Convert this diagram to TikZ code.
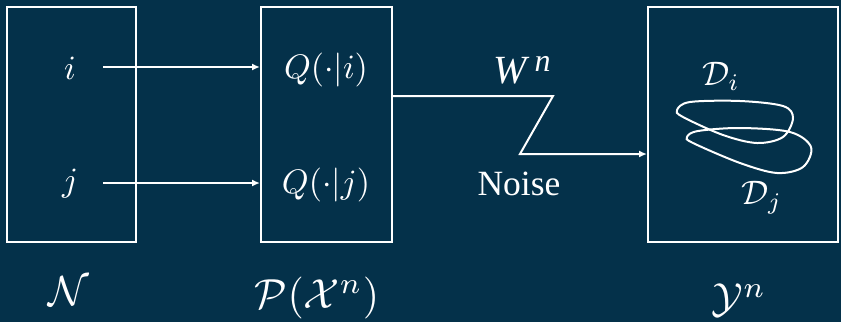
\documentclass[tikz,border=0pt]{standalone}
\usepackage{fontspec}
\newfontfamily\tnr{Liberation Serif}
\usetikzlibrary{arrows.meta}
\definecolor{bg}{HTML}{04314A}
\newcommand{\bigt}[1]{\scalebox{3.4}{#1}}
\newcommand{\hugt}[1]{\scalebox{4.2}{#1}}
\tikzset{
  box/.style={draw=white, line width=2pt, inner sep=0pt},
  lbl/.style={text=white, inner sep=0pt},
  arr/.style={draw=white, line width=2pt, -{Latex[length=8pt,width=7pt]}},
  loop/.style={draw=white, line width=2pt},
}
\begin{document}
\begin{tikzpicture}[x=1pt,y=-1pt]
\fill[bg] (0,0) rectangle (841,322);
\useasboundingbox (0,0) rectangle (841,322);
% boxes
\node[box, minimum width=129pt, minimum height=235pt] (boxN) at (71.5,124.5) {};
\node[box, minimum width=131pt, minimum height=235pt] (boxP) at (326.5,124.5) {};
\node[box, minimum width=190pt, minimum height=235pt] (boxY) at (743,124.5) {};
% labels in boxes
\node[lbl] (li) at (70,68) {\bigt{$i$}};
\node[lbl] (lj) at (70,184) {\bigt{$j$}};
\node[lbl] (qi) at (326,70) {\bigt{$Q(\cdot|i)$}};
\node[lbl] (qj) at (326,185) {\bigt{$Q(\cdot|j)$}};
\coordinate (ai) at (103,67);
\coordinate (aj) at (103,183);
\draw[arr] (ai) -- (ai -| boxP.west);
\draw[arr] (aj) -- (aj -| boxP.west);
% channel
\coordinate (w1) at (553,96);
\coordinate (w2) at (520,154);
\draw[arr] (boxP.east |- w1) -- (w1) -- (w2) -- (w2 -| boxY.west);
\node[lbl, anchor=base west] (wn) at (493,83) {\scalebox{4}{\tnr\itshape W\kern2pt\raisebox{3pt}{\fontsize{8}{8}\selectfont n}}};
\node[lbl] (noise) at (519,184) {\scalebox{3.55}{\tnr Noise}};
% decoding sets
\draw[loop] plot[smooth cycle, tension=0.55] coordinates {(677,110) (690,102) (740,101) (783,106) (793,118) (783,137) (757,143) (723,135) (683,117)};
\draw[loop] plot[smooth cycle, tension=0.55] coordinates {(687,137) (698,131) (740,128) (790,132) (811,147) (803,167) (777,173) (740,163) (693,143)};
\node[lbl] (di) at (721,76) {\bigt{$\mathcal{D}_i$}};
\node[lbl] (dj) at (762,198) {\bigt{$\mathcal{D}_j$}};
% bottom labels
\node[lbl] (setN) at (69,291) {\hugt{$\mathcal{N}$}};
\node[lbl] (setP) at (317,298) {\hugt{$\mathcal{P}(\mathcal{X}^n)$}};
\node[lbl] (setY) at (739,300) {\hugt{$\mathcal{Y}^n$}};
\end{tikzpicture}
\end{document}
